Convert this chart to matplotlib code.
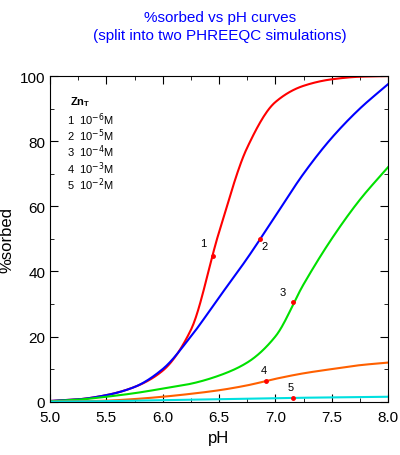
import matplotlib
matplotlib.use("Agg")
import matplotlib.pyplot as plt
import numpy as np
from matplotlib.ticker import MultipleLocator

plt.rcParams['font.family'] = ['Liberation Sans', 'DejaVu Sans']

ph = [5.0, 5.25, 5.5, 5.75, 6.0, 6.25, 6.5, 6.75, 7.0, 7.25, 7.5, 7.75, 8.0]
s1 = [0.2, 0.7, 2.0, 4.5, 9.5, 22.0, 52.0, 78.0, 92.0, 97.0, 99.0, 99.8, 100.0]
s2 = [0.2, 0.7, 2.0, 4.5, 10.0, 20.0, 32.0, 44.0, 57.0, 70.0, 81.0, 90.0, 97.5]
s3 = [0.1, 0.6, 1.5, 2.6, 4.0, 5.5, 8.0, 12.0, 20.0, 36.0, 50.0, 62.0, 72.0]
s4 = [0.0, 0.1, 0.3, 0.8, 1.5, 2.4, 3.5, 5.0, 7.0, 8.7, 10.0, 11.2, 12.0]
s5 = [0.0, 0.05, 0.15, 0.3, 0.45, 0.6, 0.75, 0.9, 1.05, 1.2, 1.3, 1.4, 1.5]
series = [s1, s2, s3, s4, s5]
colors = ['#ff0000', '#0000ff', '#00e000', '#ff6000', '#00e0e0']
labels = ['1', '2', '3', '4', '5']
mark_ph = [6.45, 6.86, 7.16, 6.92, 7.16]
mark_y = [44.8, 50.0, 30.7, 6.4, 1.2]
label_off = [(-0.12, 3), (0.02, -3), (-0.12, 2), (-0.05, 2.5), (-0.05, 2.5)]
leg = ['1  10$^{-6}$M', '2  10$^{-5}$M', '3  10$^{-4}$M', '4  10$^{-3}$M', '5  10$^{-2}$M']


def pchip(xk, yk, xq):
    xk = np.asarray(xk, float); yk = np.asarray(yk, float)
    h = np.diff(xk); d = np.diff(yk) / h
    m = np.zeros_like(yk)
    for i in range(1, len(xk) - 1):
        if d[i - 1] * d[i] > 0:
            w1 = 2 * h[i] + h[i - 1]; w2 = h[i] + 2 * h[i - 1]
            m[i] = (w1 + w2) / (w1 / d[i - 1] + w2 / d[i])
    m[0] = d[0]; m[-1] = d[-1]
    idx = np.clip(np.searchsorted(xk, xq) - 1, 0, len(h) - 1)
    t = (xq - xk[idx]) / h[idx]
    h00 = 2 * t**3 - 3 * t**2 + 1; h10 = t**3 - 2 * t**2 + t
    h01 = -2 * t**3 + 3 * t**2; h11 = t**3 - t**2
    return h00 * yk[idx] + h10 * h[idx] * m[idx] + h01 * yk[idx + 1] + h11 * h[idx] * m[idx + 1]


fig = plt.figure(figsize=(4.0, 4.56), dpi=100)
ax = fig.add_axes([0.125, 0.117, 0.845, 0.714])
x = np.linspace(5, 8, 300)
for s, c, l, mx, my, off in zip(series, colors, labels, mark_ph, mark_y, label_off):
    ax.plot(x, pchip(ph, s, x), color=c, lw=1.5)
    ax.plot([mx], [my], 'o', color='#ff0000', ms=2.5)
    ax.text(mx + off[0], my + off[1], l, fontsize=8)
ax.set_xlim(5, 8)
ax.set_ylim(0, 100)
ax.xaxis.set_major_locator(MultipleLocator(0.5))
ax.xaxis.set_minor_locator(MultipleLocator(0.25))
ax.yaxis.set_major_locator(MultipleLocator(20))
ax.yaxis.set_minor_locator(MultipleLocator(10))
ax.tick_params(which='both', direction='in', top=True, right=True, labelsize=11)
ax.tick_params(which='major', length=6)
ax.tick_params(which='minor', length=3)
ax.tick_params(axis='x', pad=6)
ax.set_xlabel('pH', fontsize=12)
ax.set_ylabel('%sorbed', fontsize=12)
ax.text(0.06, 0.915, 'Zn$_\\mathregular{T}$', transform=ax.transAxes, fontsize=8, fontweight='bold')
for i, t in enumerate(leg):
    ax.text(0.05, 0.855 - i * 0.05, t, transform=ax.transAxes, fontsize=8)
fig.text(0.55, 0.975, '%sorbed vs pH curves\n(split into two PHREEQC simulations)',
         ha='center', va='top', color='#0000ff', fontsize=11, linespacing=1.3)
fig.savefig('out.png', dpi=100)
